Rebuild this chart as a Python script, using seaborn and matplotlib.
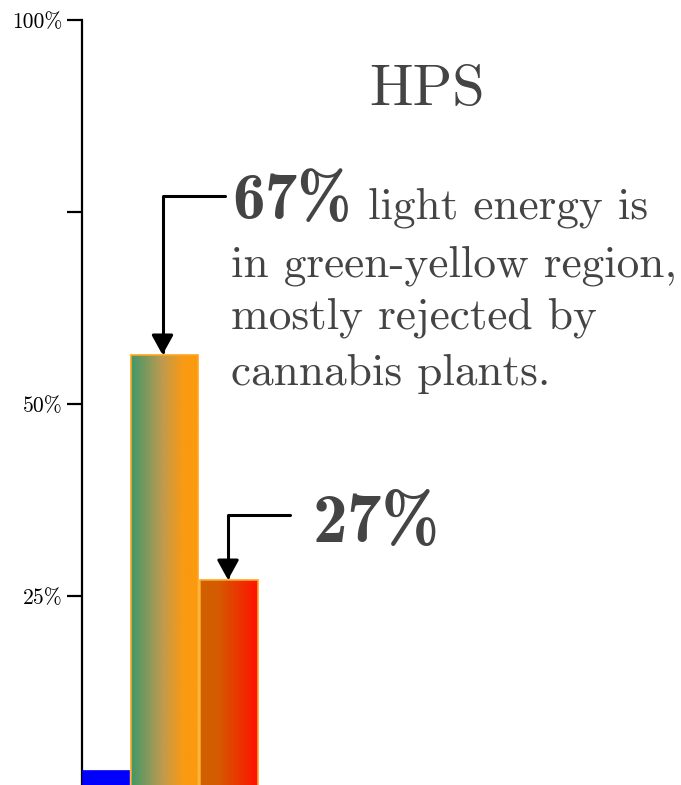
import numpy as np
import pandas as pd
import matplotlib.pyplot as plt
import seaborn as sns
from matplotlib.colors import LinearSegmentedColormap

# light energy share per spectral region (HPS lamp)
regions = ['blue', 'green-yellow', 'red']
energy_pct = [2.2, 56.4, 27.1]
callouts = ['67%', '27%']
tick_values = [25, 50, 75, 100]
tick_labels = ['25%', '50%', '', '100%']
note_lines = ['light energy is', 'in green-yellow region,', 'mostly rejected by', 'cannabis plants.']

sns.set_style('white')
plt.rcParams['font.family'] = ['cmr10', 'DejaVu Serif']
plt.rcParams['axes.unicode_minus'] = False

W, H = 681, 785
fig = plt.figure(figsize=(W / 100, H / 100), dpi=100)
ax = fig.add_axes([82 / W, -3 / H, 599 / W, 768 / H])

df = pd.DataFrame({'region': regions, 'pct': energy_pct})
sns.barplot(data=df, x='region', y='pct', ax=ax, color='white', errorbar=None)

# bar geometry in pixels from the spine
bar_left = [0, 49, 118]
bar_width = [47, 67, 58]
fills = [
    LinearSegmentedColormap.from_list('b', ['#0000ff', '#0000ff']),
    LinearSegmentedColormap.from_list('g', [(0, '#3f9868'), (0.45, '#bb9a52'),
                                            (0.78, '#f99a14'), (1, '#fc9a0e')]),
    LinearSegmentedColormap.from_list('r', [(0, '#d06000'), (0.3, '#d45c00'),
                                            (1, '#ff1200')]),
]
edges = ['#0000ff', '#ffa51f', '#ffa51f']
grad = np.linspace(0, 1, 256).reshape(1, -1)
for p, x0, w, cm, ec in zip(ax.patches, bar_left, bar_width, fills, edges):
    h = p.get_height()
    p.set_x(x0)
    p.set_width(w)
    p.set_facecolor('none')
    p.set_edgecolor(ec)
    p.set_linewidth(1.2)
    p.set_zorder(3)
    im = ax.imshow(grad, cmap=cm, aspect='auto', extent=[x0, x0 + w, 0, h],
                   origin='lower', zorder=2)
    im.set_clip_path(p)

ax.set_xlim(0, 599)
ax.set_ylim(0, 100)
ax.set_xticks([])
ax.set_xlabel('')
ax.set_ylabel('')
ax.set_yticks(tick_values)
ax.set_yticklabels(tick_labels)
ax.tick_params(axis='y', length=11, width=1.6, direction='out', labelsize=15.5,
               pad=3, left=True, colors='black')
for s in ['top', 'right', 'bottom']:
    ax.spines[s].set_visible(False)
ax.spines['left'].set_color('black')
ax.spines['left'].set_linewidth(1.6)
ax.set_facecolor('white')

# elbow arrows pointing at bar tops
centers = [l + w / 2 for l, w in zip(bar_left, bar_width)]
arrow_kw = dict(arrowstyle='-|>,head_length=0.6,head_width=0.33',
                connectionstyle='angle,angleA=0,angleB=90,rad=0',
                color='black', lw=2.2, shrinkA=0, shrinkB=0, mutation_scale=20)
ax.annotate('', xy=(centers[1] - 2, energy_pct[1]), xytext=(143, 77.1),
            arrowprops=arrow_kw)
ax.annotate('', xy=(centers[2] - 1, energy_pct[2]), xytext=(208, 35.5),
            arrowprops=arrow_kw)

txt = '#444444'
def px(x, y):
    return x / W, 1 - y / H

fig.text(*px(427, 105), 'HPS', ha='center', va='baseline', fontsize=42, color=txt)
fig.text(*px(232, 218), callouts[0], ha='left', va='baseline', fontsize=47,
         color=txt, family='cmb10')
fig.text(*px(368, 218), note_lines[0], ha='left', va='baseline', fontsize=32.6, color=txt)
for line, yb in zip(note_lines[1:], [277, 328, 385]):
    fig.text(*px(231, yb), line, ha='left', va='baseline', fontsize=32.6, color=txt)
fig.text(*px(313, 542), callouts[1], ha='left', va='baseline', fontsize=50,
         color=txt, family='cmb10')

fig.savefig('out.png', dpi=100)
